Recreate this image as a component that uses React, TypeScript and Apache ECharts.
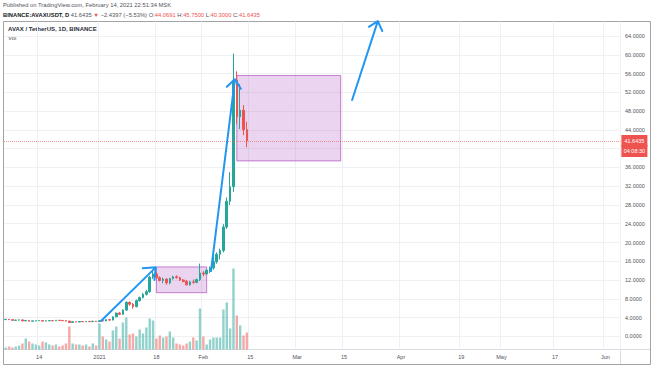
import React, { useEffect, useRef } from 'react';
import * as echarts from 'echarts';

// ---------- axis ----------
const AXIS_START = '2020-12-04';
const AXIS_DAYS = 184; // through 2021-06-05
const xTickLabels: [string, string][] = [
  ['2020-12-14', '14'], ['2021-01-01', '2021'], ['2021-01-18', '18'], ['2021-02-01', 'Feb'],
  ['2021-02-15', '15'], ['2021-03-01', 'Mar'], ['2021-03-15', '15'], ['2021-04-01', 'Apr'],
  ['2021-04-19', '19'], ['2021-05-01', 'May'], ['2021-05-17', '17'], ['2021-06-01', 'Jun'],
];
const priceMin = 0;
const priceMax = 68;
const priceStep = 4;

// ---------- daily candles 2020-12-04 .. 2021-02-14 ----------
const opens = [
  3.55, 3.62, 3.55, 3.40, 3.45, 3.50, 3.28, 3.38, 3.22, 3.28, 3.32, 3.36, 3.24, 3.30, 3.34, 3.30, 3.42, 3.38, 3.32, 3.25, 2.95, 3.10, 3.05, 3.15, 3.10, 3.18, 3.12, 3.22,
  3.15, 3.32, 3.26, 3.55, 3.46, 4.15, 4.95, 4.70, 5.60, 7.25, 6.85, 6.30, 7.60, 8.25, 8.95, 9.50, 12.60, 13.30, 12.50, 11.90, 12.20, 11.40, 12.30, 12.70, 12.50, 12.00, 11.70, 11.00, 11.60, 11.50, 12.10,
  13.50, 13.30, 14.10, 14.60, 15.90, 17.50, 18.30, 23.30, 28.80, 31.90, 54.60, 46.80, 48.20, 44.0691,
];
const closes = [
  3.62, 3.55, 3.40, 3.45, 3.50, 3.28, 3.38, 3.22, 3.28, 3.32, 3.36, 3.24, 3.30, 3.34, 3.30, 3.42, 3.38, 3.32, 3.25, 2.95, 3.10, 3.05, 3.15, 3.10, 3.18, 3.12, 3.22, 3.15,
  3.32, 3.26, 3.55, 3.46, 4.15, 4.95, 4.70, 5.60, 7.25, 6.85, 6.30, 7.60, 8.25, 8.95, 9.50, 12.60, 13.30, 12.50, 11.90, 12.20, 11.40, 12.30, 12.70, 12.50, 12.00, 11.70, 11.00, 11.60, 11.50, 12.10, 13.50,
  13.30, 14.10, 14.60, 15.90, 17.50, 18.30, 23.30, 28.80, 31.90, 54.60, 46.80, 48.20, 44.0691, 41.6435,
];
const highs = [
  3.68, 3.70, 3.60, 3.50, 3.56, 3.54, 3.42, 3.42, 3.32, 3.36, 3.40, 3.40, 3.33, 3.38, 3.38, 3.47, 3.46, 3.42, 3.36, 3.28, 3.16, 3.14, 3.19, 3.19, 3.22, 3.22, 3.26, 3.25,
  3.38, 3.40, 3.62, 3.70, 4.25, 5.05, 5.20, 5.75, 7.45, 7.45, 7.10, 7.85, 8.45, 9.25, 9.90, 12.90, 14.20, 13.70, 12.80, 12.50, 12.40, 12.50, 12.90, 13.00, 12.70, 12.20, 12.00, 11.80, 12.10, 12.30, 15.50,
  13.90, 14.30, 14.90, 17.10, 17.90, 18.70, 23.90, 29.60, 35.00, 60.30, 56.50, 53.80, 49.30, 45.75,
];
const lows = [
  3.48, 3.50, 3.35, 3.36, 3.40, 3.24, 3.24, 3.18, 3.18, 3.24, 3.28, 3.20, 3.20, 3.26, 3.26, 3.26, 3.33, 3.28, 3.20, 2.85, 2.90, 3.00, 3.01, 3.06, 3.06, 3.08, 3.08, 3.11,
  3.10, 3.18, 3.22, 3.30, 3.40, 4.05, 4.50, 4.55, 5.40, 6.50, 5.90, 6.20, 7.40, 8.10, 8.70, 9.30, 12.20, 12.30, 11.70, 11.30, 11.00, 11.10, 12.10, 12.30, 11.80, 11.50, 10.80, 10.80, 11.20, 11.30, 11.80,
  12.80, 13.10, 13.50, 14.20, 15.50, 16.40, 17.90, 22.90, 28.00, 30.80, 45.20, 44.20, 42.90, 40.30,
];
const volumes = [
  2, 3, 2, 3, 4, 6, 11, 8, 6, 5, 4, 8, 7, 5, 4, 5, 3, 4, 6, 23, 6, 5, 5, 4, 5, 3, 6, 4,
  26, 13, 10, 8, 19, 23, 11, 27, 32, 15, 16, 13, 20, 16, 22, 31, 29, 11, 14, 12, 13, 18, 12, 6, 5, 4, 6, 8, 12, 9, 41,
  13, 5, 10, 12, 12, 12, 40, 47, 21, 81, 34, 24, 14, 17,
];
const volumeAxisMax = 328;
const lastPrice = 41.6435;
const lastPriceTimer = '04:08:30';

// ---------- drawings (date, price anchors) ----------
const rectangles: [[string, number], [string, number]][] = [
  [['2021-01-18', 14.8], ['2021-02-02', 9.3]],
  [['2021-02-11', 55.6], ['2021-03-14', 37.4]],
];
// tail, tip, wing, tip, wing
const arrows: [string, number][][] = [
  [['2021-01-01T11:00', 3.26], ['2021-01-17T19:00', 14.7], ['2021-01-13T22:00', 14.5], ['2021-01-17T19:00', 14.7], ['2021-01-17T10:00', 12.0]],
  [['2021-02-03T07:00', 13.9], ['2021-02-10T10:00', 54.8], ['2021-02-08T00:00', 53.2], ['2021-02-10T10:00', 54.8], ['2021-02-12T05:00', 52.8]],
  [['2021-03-17T10:00', 50.4], ['2021-03-25T02:00', 67.2], ['2021-03-22T10:00', 66.0], ['2021-03-25T02:00', 67.2], ['2021-03-26T10:00', 65.1]],
];

const UP = '#26a69a';
const DOWN = '#ef5350';
const UP_VOL = 'rgba(38,166,154,0.5)';
const DOWN_VOL = 'rgba(239,83,80,0.5)';
const FONT = 'Liberation Sans';

const startMs = Date.parse(AXIS_START + 'T00:00:00Z');
const categories: string[] = [];
for (let i = 0; i < AXIS_DAYS; i++) {
  categories.push(new Date(startMs + i * 86400000).toISOString().slice(0, 10));
}
const toIndex = (s: string) => {
  const iso = s.length > 10 ? s + ':00Z' : s + 'T00:00:00Z';
  return (Date.parse(iso) - startMs) / 86400000;
};
const tickMap: Record<string, string> = {};
xTickLabels.forEach(([d, l]) => (tickMap[d] = l));
const isTick = (_i: number, v: string) => v in tickMap;

export default function App() {
  const ref = useRef<HTMLDivElement>(null);
  useEffect(() => {
    if (!ref.current) return;
    const chart = echarts.init(ref.current, undefined, { renderer: 'svg' });
    const gridLine = '#eef0f3';
    const tag = {
      color: '#ffffff', backgroundColor: DOWN, fontSize: 5.5, lineHeight: 10, width: 20, align: 'center',
      padding: [3, 3, 3, 3], fontFamily: FONT,
    };
    const option: any = {
      animation: false,
      textStyle: { fontFamily: FONT },
      grid: [
        { left: 4, right: 33.6, top: 17.4, bottom: 29.7 },
        { left: 4, right: 33.6, top: 21.5, bottom: 16.5 },
      ],
      xAxis: [
        { type: 'category', gridIndex: 0, data: categories, boundaryGap: true, show: false },
        {
          type: 'category', gridIndex: 1, data: categories, boundaryGap: true,
          axisLine: { show: false }, axisTick: { show: false },
          axisLabel: {
            interval: isTick, formatter: (v: string) => tickMap[v] ?? '',
            fontSize: 5.5, color: '#4f525c', margin: 4, fontFamily: FONT,
          },
          splitLine: { show: true, interval: isTick, lineStyle: { color: gridLine, width: 1 } },
        },
        { type: 'value', gridIndex: 0, min: -0.5, max: AXIS_DAYS - 0.5, show: false },
      ],
      yAxis: [
        {
          type: 'value', gridIndex: 0, position: 'right', min: priceMin, max: priceMax, interval: priceStep,
          axisLine: { show: false }, axisTick: { show: false },
          axisLabel: {
            fontSize: 5.5, color: '#4f525c', margin: 4.6, fontFamily: FONT, showMaxLabel: false,
            formatter: (v: number) => (v === 40 ? '' : v.toFixed(4)),
          },
          splitLine: { show: true, showMaxLine: false, lineStyle: { color: gridLine, width: 1 } },
        },
        { type: 'value', gridIndex: 1, min: 0, max: volumeAxisMax, show: false },
      ],
      series: [
        {
          type: 'bar', xAxisIndex: 1, yAxisIndex: 1, barWidth: '72%', z: 1, silent: true,
          data: volumes.map((v, i) => ({ value: v, itemStyle: { color: closes[i] >= opens[i] ? UP_VOL : DOWN_VOL } })),
        },
        {
          type: 'line', xAxisIndex: 0, yAxisIndex: 0, data: [], z: 1, silent: true,
          markArea: {
            silent: true,
            itemStyle: { color: 'rgba(156,39,176,0.2)', borderColor: 'rgba(156,39,176,0.55)', borderWidth: 1 },
            data: rectangles.map(([a, b]) => [{ coord: [a[0], a[1]] }, { coord: [b[0], b[1]] }]),
          },
        },
        {
          type: 'candlestick', xAxisIndex: 0, yAxisIndex: 0, z: 3, barWidth: '62%', silent: true,
          itemStyle: { color: UP, color0: DOWN, borderColor: UP, borderColor0: DOWN, borderWidth: 1 },
          data: opens.map((o, i) => [o, closes[i], lows[i], highs[i]]),
          markLine: {
            silent: true, symbol: ['none', 'none'],
            lineStyle: { color: 'rgba(239,83,80,0.6)', type: 'dotted', width: 1 },
            label: {
              show: true, position: 'end', distance: 1,
              formatter: '{s| }\n{t|' + lastPrice.toFixed(4) + '}\n{t|' + lastPriceTimer + '}',
              fontSize: 5.5, fontFamily: FONT,
              rich: {
                s: { lineHeight: 10, fontSize: 5.5, color: 'rgba(0,0,0,0)' },
                t: tag,
              },
            },
            data: [{ yAxis: lastPrice }],
          },
        },
        ...arrows.map((pts) => ({
          type: 'line', xAxisIndex: 2, yAxisIndex: 0, z: 5, silent: true, symbol: 'none',
          lineStyle: { color: '#2196f3', width: 2, cap: 'round', join: 'round' },
          data: pts.map(([d, p]) => [toIndex(d), p]),
        })),
      ],
      graphic: [
        { type: 'rect', silent: true, shape: { x: 3.5, y: 21.5, width: 647, height: 343 }, style: { fill: 'none', stroke: '#a3a3a3', lineWidth: 1 } },
        { type: 'line', silent: true, shape: { x1: 4, y1: 349.5, x2: 650, y2: 349.5 }, style: { stroke: '#d9dce2', lineWidth: 1 } },
        { type: 'line', silent: true, shape: { x1: 620.5, y1: 22, x2: 620.5, y2: 364 }, style: { stroke: '#d9dce2', lineWidth: 1 } },
        {
          type: 'text', x: 3, y: 5, silent: true,
          style: { text: 'Published on TradingView.com, February 14, 2021 22:51:34 MSK', fontSize: 5.8, fontFamily: FONT, fill: '#50535e', verticalAlign: 'middle' },
        },
        {
          type: 'text', x: 3, y: 14.5, silent: true,
          style: {
            text: '{b|BINANCE:AVAXUSDT, D} {n|41.6435} {r|▼} {n|−2.4397 (−5.53%)} {n|O:}{r|44.0691} {n|H:}{r|45.7500} {n|L:}{r|40.3000} {n|C:}{r|41.6435}',
            verticalAlign: 'middle', fontSize: 5.8, fontFamily: FONT,
            rich: {
              b: { fontWeight: 'bold', fill: '#131722', fontSize: 5.8, fontFamily: FONT },
              n: { fill: '#50535e', fontSize: 5.8, fontFamily: FONT },
              r: { fill: DOWN, fontSize: 5.8, fontFamily: FONT },
            },
          },
        },
        {
          type: 'text', x: 8, y: 28.5, silent: true,
          style: { text: 'AVAX / TetherUS, 1D, BINANCE', fontSize: 6, fontWeight: 'bold', fontFamily: FONT, fill: '#2a2e39', verticalAlign: 'middle' },
        },
        {
          type: 'text', x: 8, y: 37.5, silent: true,
          style: { text: 'Vol', fontSize: 6, fontFamily: FONT, fill: '#50535e', verticalAlign: 'middle' },
        },
      ],
    };
    chart.setOption(option);
    return () => chart.dispose();
  }, []);
  return <div ref={ref} style={{ width: 654, height: 366, position: 'absolute', left: 0, top: 0 }} />;
}
